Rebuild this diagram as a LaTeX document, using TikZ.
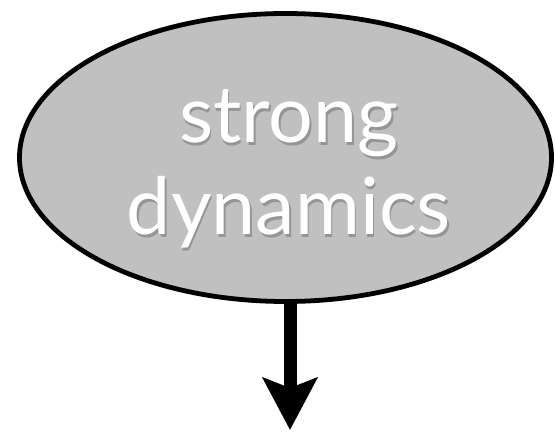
\documentclass[tikz,border=0pt]{standalone}
\usepackage{fontspec}
\setmainfont{Lato}
\usetikzlibrary{shapes.geometric,arrows.meta}
\definecolor{bubblegray}{RGB}{192,192,192}
\tikzset{
  bubble/.style={ellipse, draw=black, line width=4.8pt, fill=bubblegray,
    minimum width=532pt, minimum height=288pt, inner sep=0pt},
  word/.style={text=white, font=\fontsize{79}{92}\selectfont, inner sep=0pt, anchor=base},
  wordshadow/.style={word, text=black, opacity=0.22},
  flow/.style={line width=13pt, -{Stealth[length=52pt, width=54pt, inset=10pt]}}
}
\begin{document}
\begin{tikzpicture}[x=1pt, y=-1pt]
  \useasboundingbox (0,0) rectangle (555,433);
  \node[bubble] (dyn) at (285.5,157.5) {};
  % drop shadow behind each line of the label
  \node[wordshadow] (topshadow) at (290.5,145.5) {strong};
  \node[wordshadow] (bottomshadow) at (290.5,237.5) {dynamics};
  \node[word] (top) at (289,143) {strong};
  \node[word] (bottom) at (289,235) {dynamics};
  \coordinate (end) at (290,430);
  \draw[flow] (dyn.south -| end) -- (end);
\end{tikzpicture}
\end{document}
